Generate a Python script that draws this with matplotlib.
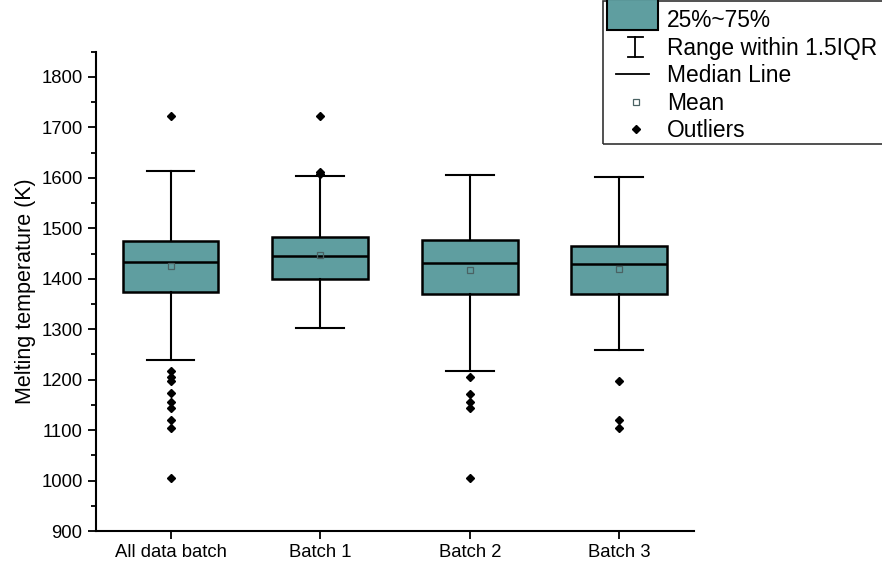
import numpy as np
import matplotlib
matplotlib.use("Agg")
import matplotlib.pyplot as plt
from matplotlib.patches import Rectangle
from matplotlib.lines import Line2D
from matplotlib.legend_handler import HandlerBase

plt.rcParams['font.family'] = ['Liberation Sans', 'DejaVu Sans']

# Datos (K)
categorias = ["All data batch", "Batch 1", "Batch 2", "Batch 3"]
q1 = [1374, 1400, 1370, 1369]
mediana = [1434, 1445, 1431, 1429]
q3 = [1475, 1482, 1476, 1464]
bigote_inf = [1239, 1302, 1218, 1259]
bigote_sup = [1613, 1603, 1606, 1601]
media = [1425, 1447, 1417, 1419]
atipicos = [
    [1723, 1218, 1205, 1198, 1173, 1156, 1144, 1120, 1104, 1006],
    [1723, 1612, 1608],
    [1205, 1172, 1156, 1144, 1006],
    [1197, 1120, 1104],
]

color_caja = "#5F9EA0"
color_media = "#4a6263"

# Estadisticas para bxp
stats = []
for i in range(len(categorias)):
    stats.append({
        "label": categorias[i],
        "q1": q1[i], "med": mediana[i], "q3": q3[i],
        "whislo": bigote_inf[i], "whishi": bigote_sup[i],
        "mean": media[i], "fliers": atipicos[i],
    })

fig = plt.figure(figsize=(8.82, 5.71), dpi=100)
ax = fig.add_axes([0.1085, 0.070, 0.6785, 0.8395])

ax.bxp(stats, positions=[1, 2, 3, 4], widths=0.64, patch_artist=True,
       showmeans=True,
       boxprops=dict(facecolor=color_caja, edgecolor="black", linewidth=1.8),
       medianprops=dict(color="black", linewidth=1.8),
       whiskerprops=dict(color="black", linewidth=1.5),
       capprops=dict(color="black", linewidth=1.5),
       capwidths=0.32,
       meanprops=dict(marker="s", markerfacecolor="none",
                      markeredgecolor=color_media, markersize=4.5,
                      markeredgewidth=0.9),
       flierprops=dict(marker="D", markerfacecolor="black",
                       markeredgecolor="black", markersize=4.5))

# Ejes
ax.set_xlim(0.5, 4.5)
ax.set_ylim(900, 1850)
ax.set_yticks(np.arange(900, 1801, 100))
ax.set_yticks(np.arange(950, 1851, 100), minor=True)
ax.set_xticks([1, 2, 3, 4])
ax.set_xticklabels(categorias)
ax.tick_params(axis="both", which="major", direction="out", length=6,
               width=1.3, labelsize=13.3)
ax.tick_params(axis="y", which="minor", direction="out", length=3.5,
               width=1.3)
ax.set_ylabel("Melting temperature (K)", fontsize=15.5)

for lado in ["top", "right"]:
    ax.spines[lado].set_visible(False)
for lado in ["left", "bottom"]:
    ax.spines[lado].set_linewidth(1.5)


# Manejadores de leyenda a medida
class HandlerCaja(HandlerBase):
    def create_artists(self, legend, orig_handle, xdescent, ydescent,
                       width, height, fontsize, trans):
        h = fontsize * 1.4
        cy = -ydescent + height / 2 + fontsize * 0.2
        r = Rectangle((-xdescent, cy - h / 2), width, h,
                      facecolor=color_caja, edgecolor="black", linewidth=1.5,
                      transform=trans)
        return [r]


class HandlerRango(HandlerBase):
    def create_artists(self, legend, orig_handle, xdescent, ydescent,
                       width, height, fontsize, trans):
        cx = -xdescent + width / 2 + 2
        cy = -ydescent + height / 2
        hh = fontsize * 0.44
        hw = fontsize * 0.33
        l1 = Line2D([cx, cx], [cy - hh, cy + hh], color="black", lw=1.3,
                    transform=trans)
        l2 = Line2D([cx - hw, cx + hw], [cy + hh, cy + hh], color="black",
                    lw=1.3, transform=trans)
        l3 = Line2D([cx - hw, cx + hw], [cy - hh, cy - hh], color="black",
                    lw=1.3, transform=trans)
        return [l1, l2, l3]


class HandlerLinea(HandlerBase):
    def create_artists(self, legend, orig_handle, xdescent, ydescent,
                       width, height, fontsize, trans):
        cx = -xdescent + width / 2
        cy = -ydescent + height / 2
        hw = fontsize * 0.72
        return [Line2D([cx - hw, cx + hw], [cy, cy], color="black", lw=1.3,
                       transform=trans)]


class HandlerMarca(HandlerBase):
    def create_artists(self, legend, orig_handle, xdescent, ydescent,
                       width, height, fontsize, trans):
        cx = -xdescent + width / 2 + 3
        cy = -ydescent + height / 2
        m = Line2D([cx], [cy], transform=trans)
        m.update_from(orig_handle)
        m.set_transform(trans)
        return [m]


h_caja = Rectangle((0, 0), 1, 1)
h_rango = Line2D([], [])
h_mediana = Line2D([], [])
h_media = Line2D([], [], marker="s", linestyle="none", markerfacecolor="none",
                 markeredgecolor=color_media, markersize=4.5,
                 markeredgewidth=0.9)
h_atip = Line2D([], [], marker="D", linestyle="none", markerfacecolor="black",
                markeredgecolor="black", markersize=4.5)

leg = fig.legend([h_caja, h_rango, h_mediana, h_media, h_atip],
                 ["25%~75%", "Range within 1.5IQR", "Median Line", "Mean",
                  "Outliers"],
                 handler_map={h_caja: HandlerCaja(), h_rango: HandlerRango(),
                              h_mediana: HandlerLinea(),
                              h_media: HandlerMarca(), h_atip: HandlerMarca()},
                 loc="upper left", bbox_to_anchor=(0.6879, 0.9842),
                 borderaxespad=0, borderpad=0, fontsize=16.4, frameon=False,
                 handlelength=2.24, handletextpad=0.41, labelspacing=0.2)

# Marco de la leyenda (cortado por el borde derecho como en el original)
marco = Rectangle((602.7 / 882, 1 - 144 / 571), 0.5, 143 / 571,
                  transform=fig.transFigure, facecolor="none",
                  edgecolor="#333333", linewidth=1.2, clip_on=False)
fig.add_artist(marco)

fig.savefig("out.png", dpi=100)
